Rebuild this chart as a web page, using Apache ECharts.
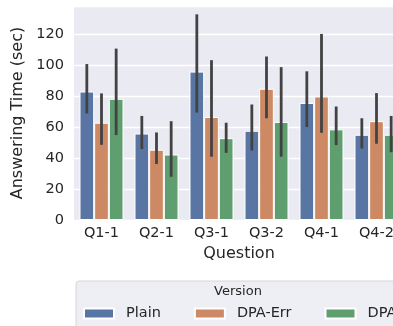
<!DOCTYPE html>
<html><head><meta charset="utf-8">
<script src="https://cdn.jsdelivr.net/npm/echarts@6/dist/echarts.min.js"></script>
<style>html,body{margin:0;padding:0;overflow:hidden;background:#fff;width:393px;height:326px}#c{width:520px;height:326px}</style>
</head><body><div id="c"></div>
<script>
const categories = ['Q1-1','Q2-1','Q3-1','Q3-2','Q4-1','Q4-2'];
const versions = ['Plain','DPA-Err','DPA'];
const plainMean = [83.2, 56, 96.1, 57.8, 75.8, 55.2];
const plainLow  = [69, 46, 69.6, 45, 60.2, 46.3];
const plainHigh = [101, 67.4, 133.2, 74.8, 96.3, 65.9];
const errMean = [63, 45.5, 66.7, 85, 80, 64];
const errLow  = [48.7, 36.3, 41, 65.9, 56.5, 49.4];
const errHigh = [82, 56.7, 103.5, 105.9, 120.5, 82.2];
const dpaMean = [78.5, 42.4, 53, 63.5, 58.7, 55.2];
const dpaLow  = [55, 28, 43.5, 41, 48.5, 43.9];
const dpaHigh = [111, 64, 63, 99, 73.5, 67.4];
const yTicks = [0, 20, 40, 60, 80, 100, 120];

const colors = ['#5975a4', '#cc8963', '#5f9e6e'];
const means = [plainMean, errMean, dpaMean];
const lows = [plainLow, errLow, dpaLow];
const highs = [plainHigh, errHigh, dpaHigh];
const font = 'DejaVu Sans';
const txt = '#262626';

const series = [];
versions.forEach((v, i) => {
  series.push({
    name: v, type: 'bar', data: means[i],
    barGap: '0%', barCategoryGap: '20%',
    itemStyle: { color: colors[i], borderColor: '#ffffff', borderWidth: 1 },
    emphasis: { disabled: true }
  });
});
versions.forEach((v, i) => {
  series.push({
    type: 'custom', z: 10, silent: true,
    data: categories.map((c, k) => [k, lows[i][k], highs[i][k]]),
    renderItem: function (params, api) {
      const k = api.value(0);
      const p1 = api.coord([k, api.value(1)]);
      const p2 = api.coord([k, api.value(2)]);
      const band = api.size([1, 0])[0];
      const bw = band * 0.8 / 3;
      const x = p1[0] + (i - 1) * bw;
      return { type: 'line', shape: { x1: x, y1: p1[1], x2: x, y2: p2[1] },
        style: { stroke: '#424242', lineWidth: 2.8 } };
    }
  });
});

const chart = echarts.init(document.getElementById('c'), null, { renderer: 'canvas' });
chart.setOption({
  animation: false,
  textStyle: { fontFamily: font },
  grid: { left: 74, top: 6, width: 330, bottom: 106, show: true, backgroundColor: '#eaeaf2', borderWidth: 0 },
  xAxis: {
    type: 'category', data: categories,
    axisLine: { show: false }, axisTick: { show: false },
    axisLabel: { color: txt, fontSize: 14.5, fontFamily: font, margin: 6 },
    name: 'Question', nameLocation: 'middle', nameGap: 22,
    nameTextStyle: { color: txt, fontSize: 16, fontFamily: font }
  },
  yAxis: {
    type: 'value', min: 0, max: 138.6, interval: 20,
    axisLine: { show: false }, axisTick: { show: false },
    axisLabel: { color: txt, fontSize: 14.5, fontFamily: font, margin: 10,
      formatter: v => yTicks.includes(v) ? String(v) : '' },
    splitLine: { lineStyle: { color: '#ffffff', width: 1.3 } },
    name: 'Answering Time (sec)', nameLocation: 'middle', nameGap: 44,
    nameTextStyle: { color: txt, fontSize: 16, fontFamily: font }
  },
  legend: {
    data: versions, left: 76, top: 281, width: 420,
    padding: [25, 20, 14, 7],
    backgroundColor: '#eeeef5', borderColor: '#d6d6d6', borderWidth: 1, borderRadius: 3,
    itemWidth: 30, itemHeight: 10, itemGap: 33, icon: 'rect',
    textStyle: { color: txt, fontSize: 14.5, fontFamily: font, padding: [0, 0, 0, 7] },
    selectedMode: false
  },
  graphic: [{
    type: 'text', x: 238, y: 292, z: 100,
    style: { text: 'Version', fill: txt, font: '13px "DejaVu Sans"', align: 'center', verticalAlign: 'middle' }
  }],
  series: series
});
</script></body></html>
